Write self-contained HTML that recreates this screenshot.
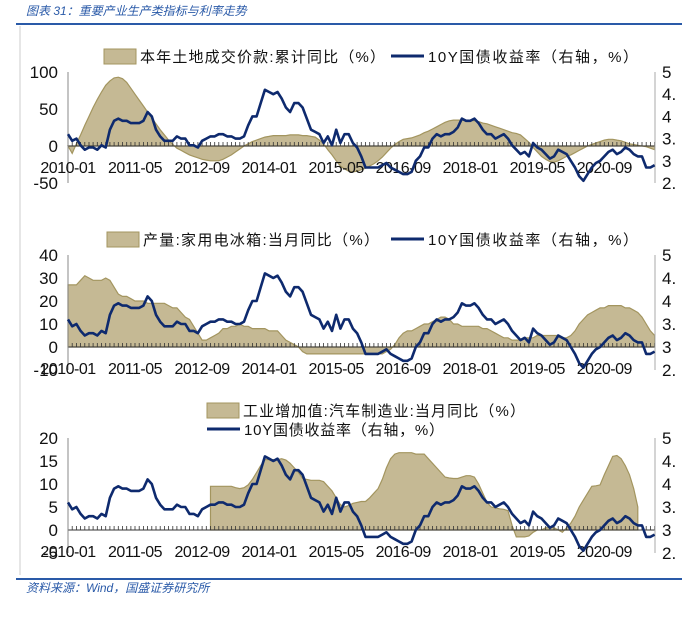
<!DOCTYPE html>
<html><head><meta charset="utf-8">
<style>
body{margin:0;background:#fff;width:693px;height:628px;overflow:hidden}
svg{display:block}
text{font-family:"Liberation Sans","Noto Sans CJK SC",sans-serif}
</style></head>
<body>
<svg id="c" width="693" height="628" viewBox="0 0 693 628" xmlns="http://www.w3.org/2000/svg">
<text x="26" y="15" font-size="12" fill="#2a5aa8" font-style="italic">图表 31：重要产业生产类指标与利率走势</text>
<line x1="16" y1="24" x2="682" y2="24" stroke="#2a5aa8" stroke-width="2"/>
<line x1="20" y1="26" x2="20" y2="575" stroke="#cccccc" stroke-width="1"/>
<line x1="16" y1="579" x2="682" y2="579" stroke="#2a5aa8" stroke-width="2"/>
<text x="26" y="592" font-size="12" fill="#2a5aa8" font-style="italic">资料来源：Wind，国盛证券研究所</text>
<g id="g1"></g><g id="g2"></g><g id="g3"></g>
</svg>
<script>
// months from 2010-01
const xLabels = ["2010-01","2011-05","2012-09","2014-01","2015-05","2016-09","2018-01","2019-05","2020-09"];
const yield10y = [
3.6,3.45,3.5,3.35,3.25,3.3,3.3,3.25,3.35,3.3,3.7,3.9,
3.95,3.9,3.9,3.85,3.85,3.85,3.9,4.1,4.0,3.7,3.55,3.45,
3.45,3.45,3.55,3.5,3.5,3.35,3.35,3.3,3.45,3.5,3.55,3.55,
3.6,3.6,3.55,3.55,3.5,3.5,3.55,3.8,4.0,4.0,4.3,4.6,
4.55,4.5,4.55,4.4,4.2,4.1,4.3,4.3,4.2,3.95,3.7,3.65,
3.6,3.4,3.55,3.35,3.7,3.4,3.6,3.6,3.4,3.3,3.1,2.85,
2.85,2.85,2.85,2.9,2.95,2.85,2.8,2.75,2.7,2.7,2.75,3.0,
3.1,3.3,3.3,3.5,3.6,3.55,3.6,3.6,3.65,3.75,3.95,3.9,
3.9,3.95,3.85,3.7,3.6,3.6,3.5,3.55,3.6,3.5,3.35,3.25,
3.15,3.2,3.1,3.4,3.3,3.25,3.15,3.05,3.1,3.25,3.2,3.15,
3.0,2.85,2.65,2.55,2.7,2.85,2.95,3.0,3.1,3.2,3.25,3.15,
3.2,3.3,3.25,3.15,3.1,3.1,2.85,2.85,2.9];
const landValues = [
0,-10,3,15,28,40,52,63,73,82,88,92,
93,91,86,78,70,62,54,46,38,30,22,15,
8,2,-3,-6,-9,-12,-14,-16,-18,-19,-20,-20,
-20,-18,-15,-12,-8,-4,0,3,6,8,10,12,
13,14,14,14,14,15,15,15,14,14,13,12,
8,3,-5,-12,-20,-27,-31,-34,-35,-34,-32,-30,
-27,-24,-20,-15,-9,-3,2,6,9,10,11,13,
15,18,20,23,26,29,32,34,35,35,35,35,
35,34,33,31,30,28,26,24,22,20,18,17,
15,10,5,-2,-8,-14,-18,-21,-22,-20,-17,-14,
-12,-9,-6,-3,0,2,4,6,8,9,9,8,
7,5,3,2,1,0,-1,-3,-5];
const fridgeValues = [
27,27,27,29,31,30,29,29,29,30,29,26,
23,22,22,21,20,20,20,19,19,19,19,19,
18,17,17,15,13,12,9,6,3,3,4,5,
6,8,8,9,9,10,9,9,8,8,8,8,
7,7,7,5,3,2,1,0,-2,-3,-3,-3,
-3,-3,-3,-3,-3,-3,-3,-3,-3,-3,-3,-3,
-3,-3,-3,-3,-2,-1,1,4,6,7,7,8,
9,10,10,11,12,13,13,12,10,10,9,9,
9,9,9,8,8,7,6,5,4,4,3,3,
3,4,4,4,5,5,5,5,5,5,4,4,
5,7,10,12,14,15,16,17,17,18,18,18,
18,17,17,16,15,13,10,7,5];
const autoValues = [
null,null,null,null,null,null,null,null,null,null,null,null,
null,null,null,null,null,null,null,null,null,null,null,null,
null,null,null,null,null,null,null,null,null,null,9.5,9.5,
9.5,9.5,9.5,9.5,9.2,9.0,9.2,9.8,11,12.5,14,15.3,
15.3,15.3,15.3,15.5,15.2,14.5,13.5,12.5,11.2,11,10.8,10.8,
10.8,10.5,9.5,8.5,7,5.5,5,5.3,5.8,6,6.2,6.2,
7,8,9,11,13.5,15.5,16.5,16.8,16.8,16.8,16.8,16.5,
16.5,16.5,15.5,14.5,13.5,12.5,11.5,11.3,11.2,11.2,11.5,11.8,
11.8,11.5,10,8,6,5,4.8,4.6,4.5,4.2,1,-1.5,
-1.5,-1.5,-1.3,-0.5,0,0,0.5,0.5,0.5,0,-0.5,0.5,
1.5,3,5,6.5,8,9.5,9.6,9.8,12,14,16,16.2,
15.5,14,12,9,5];
const leftTicks1=[100,50,0,-50], leftTicks2=[40,30,20,10,0,-10], leftTicks3=[20,15,10,5,0,-5];
const rightTickLabels=["5","4.","4","3.","3","2."];
const rightTickVals=[5,4.5,4,3.5,3,2.5];

const NS="http://www.w3.org/2000/svg";
const X0=68, X1=655, DX=4.19;
function xScale(i){return X0+i*DX;}
function mk(tag,attrs,parent){const e=document.createElementNS(NS,tag);for(const k in attrs)e.setAttribute(k,attrs[k]);parent.appendChild(e);return e;}

function drawChart(g, yTop, yBot, lmin, lmax, ticks, area, legend){
  const yL=v=>yBot-(v-lmin)/(lmax-lmin)*(yBot-yTop);
  const yR=v=>yBot-(v-2.5)/2.5*(yBot-yTop);
  let d="", started=false, lastI=0;
  area.forEach((v,i)=>{ if(v===null)return; if(!started){d+="M"+xScale(i).toFixed(1)+","+yL(0).toFixed(1);started=true;} d+=" L"+xScale(i).toFixed(1)+","+yL(v).toFixed(1); lastI=i;});
  d+=" L"+xScale(lastI).toFixed(1)+","+yL(0).toFixed(1)+" Z";
  const ar=mk("path",{d:d,fill:"#c5b994",stroke:"#a3955f","stroke-width":"1.2"},g);
  
  
  const zl=mk("line",{x1:X0,y1:yL(0),x2:X1,y2:yL(0),stroke:"#333","stroke-width":"1"},g);
  
  
  let td="";
  for(let i=0;i<yield10y.length;i++){const x=xScale(i);td+="M"+x.toFixed(1)+","+yL(0)+" V"+(yL(0)-4);}
  const tk=mk("path",{d:td,stroke:"#333","stroke-width":"0.8"},g);
  
  
  const la=mk("line",{x1:X0,y1:yTop,x2:X0,y2:yBot,stroke:"#888","stroke-width":"1"},g);
  
  
  const ra=mk("line",{x1:X1,y1:yTop,x2:X1,y2:yBot,stroke:"#aaa","stroke-width":"1"},g);
  
  
  ticks.forEach(v=>{const t=mk("text",{x:58,y:yL(v)+6,"font-size":"17","text-anchor":"end",fill:"#111"},g);t.textContent=v;
    
    });
  rightTickVals.forEach((v,k)=>{const t=mk("text",{x:662,y:yR(v)+6,"font-size":"17",fill:"#111"},g);t.textContent=rightTickLabels[k];
    
    });
  xLabels.forEach((s,k)=>{const t=mk("text",{x:xScale(k*16),y:yL(0)+27,"font-size":"16","text-anchor":"middle",fill:"#111","letter-spacing":"-0.5"},g);t.textContent=s;
    
    });
  const pts=yield10y.map((v,i)=>xScale(i).toFixed(1)+","+yR(v).toFixed(1)).join(" ");
  const ln=mk("polyline",{points:pts,fill:"none",stroke:"#0e2a6e","stroke-width":"2.6","stroke-linejoin":"round"},g);
  
  
  const sw=mk("rect",{x:legend.sx,y:legend.sy-7,width:32,height:15,fill:"#c5b994",stroke:"#a3955f"},g);
  
  
  const t1=mk("text",{x:legend.sx+36,y:legend.sy+6,"font-size":"15",fill:"#111",textLength:legend.w1,lengthAdjust:"spacing"},g);t1.textContent=legend.t1;
  
  
  const ll=mk("line",{x1:legend.lx,y1:legend.ly,x2:legend.lx+33,y2:legend.ly,stroke:"#0e2a6e","stroke-width":"3"},g);
  
  
  const t2=mk("text",{x:legend.lx+37,y:legend.ly+6,"font-size":"15",fill:"#111",textLength:legend.w2,lengthAdjust:"spacing"},g);t2.textContent="10Y国债收益率（右轴，%）";
  
  
}
drawChart(document.getElementById("g1"),72,183,-50,100,leftTicks1,landValues,
 {sx:104,sy:56,t1:"本年土地成交价款:累计同比（%）",w1:245,lx:391,ly:56,w2:210});
drawChart(document.getElementById("g2"),255,370,-10,40,leftTicks2,fridgeValues,
 {sx:107,sy:239,t1:"产量:家用电冰箱:当月同比（%）",w1:236,lx:391,ly:239,w2:210});
drawChart(document.getElementById("g3"),438,553,-5,20,leftTicks3,autoValues,
 {sx:207,sy:410,t1:"工业增加值:汽车制造业:当月同比（%）",w1:282,lx:207,ly:429,w2:200});
</script>
</body></html>
